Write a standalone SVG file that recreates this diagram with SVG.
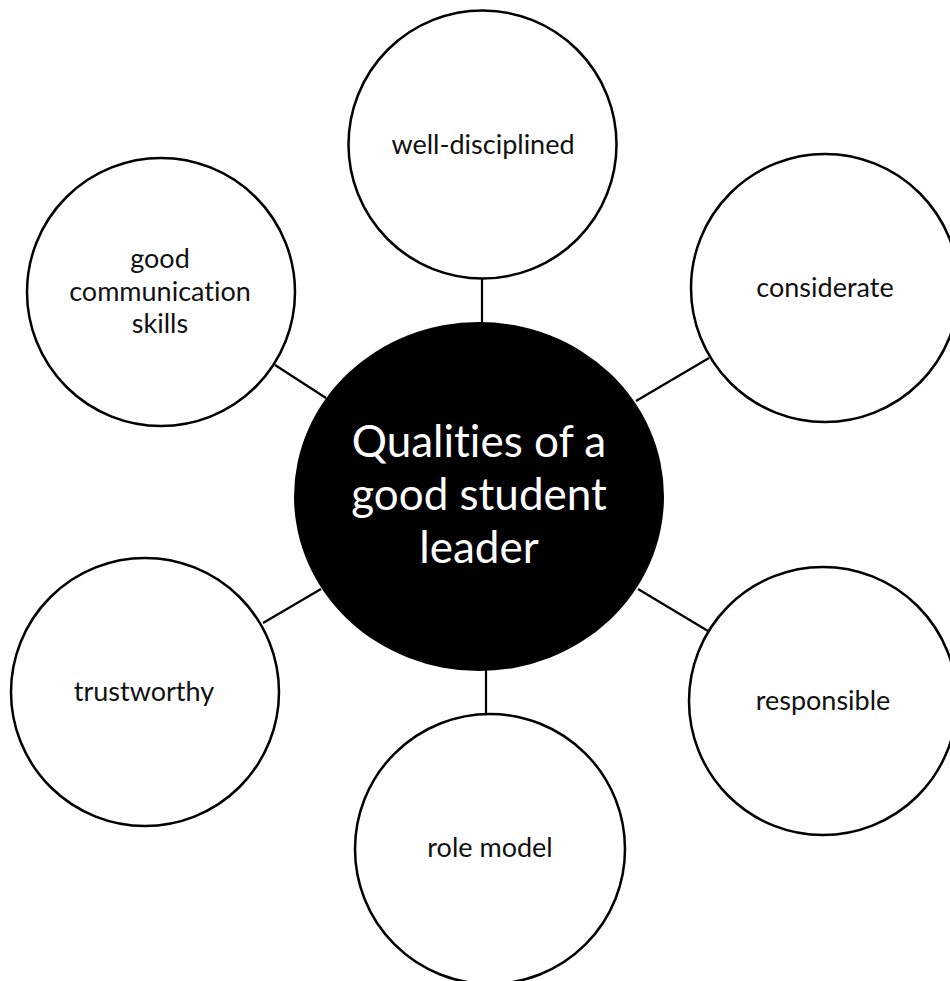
<svg xmlns="http://www.w3.org/2000/svg" width="950" height="981" viewBox="0 0 950 981">
<style>
.node circle{fill:#fff;stroke:#000;stroke-width:2.5}
.lbl{font-family:Lato,"Open Sans","Liberation Sans",sans-serif;font-size:27px;fill:#111;text-anchor:middle;font-variant-ligatures:none}
.title{font-family:Lato,"Open Sans","Liberation Sans",sans-serif;font-size:44px;fill:#fff;text-anchor:middle;font-variant-ligatures:none}
.conn line{stroke:#000;stroke-width:2.2}
</style>
<rect width="950" height="981" fill="#fff"/>
<g id="connectors" class="conn">
<line x1="482" y1="278" x2="482" y2="323"/>
<line x1="709" y1="358" x2="636" y2="401"/>
<line x1="275" y1="365" x2="326" y2="398"/>
<line x1="263" y1="623" x2="321" y2="589"/>
<line x1="638" y1="589" x2="708" y2="631"/>
<line x1="486" y1="670" x2="486" y2="715"/>
</g>
<g id="center">
<ellipse cx="479" cy="496.5" rx="185" ry="174.5" fill="#000"/>
<text class="title" x="479" y="457">Qualities of a</text>
<text class="title" x="479" y="510">good student</text>
<text class="title" x="479" y="563">leader</text>
</g>
<g id="well-disciplined" class="node">
<circle cx="482.5" cy="144.5" r="134"/>
<text class="lbl" x="483" y="154">well-disciplined</text>
</g>
<g id="considerate" class="node">
<circle cx="825" cy="288" r="134"/>
<text class="lbl" x="825" y="297">considerate</text>
</g>
<g id="good-communication" class="node">
<circle cx="161" cy="292" r="134"/>
<text class="lbl" x="160" y="268">good</text>
<text class="lbl" x="160" y="301">communication</text>
<text class="lbl" x="160" y="333">skills</text>
</g>
<g id="trustworthy" class="node">
<circle cx="145" cy="692" r="134"/>
<text class="lbl" x="144" y="701">trustworthy</text>
</g>
<g id="responsible" class="node">
<circle cx="823" cy="701" r="134"/>
<text class="lbl" x="823" y="710">responsible</text>
</g>
<g id="role-model" class="node">
<circle cx="490" cy="849" r="135"/>
<text class="lbl" x="490" y="857">role model</text>
</g>
</svg>
